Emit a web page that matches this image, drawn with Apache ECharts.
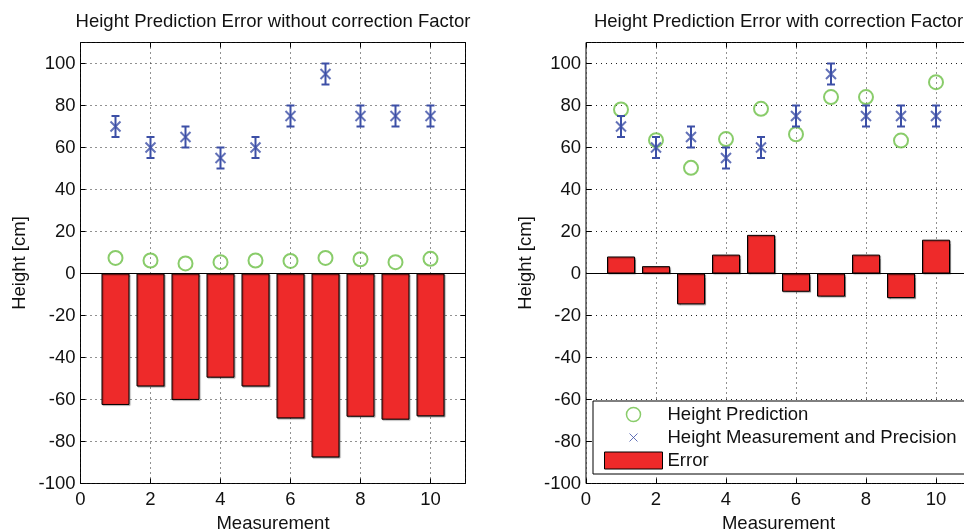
<!DOCTYPE html>
<html>
<head>
<meta charset="utf-8">
<script src="https://cdn.jsdelivr.net/npm/echarts@6/dist/echarts.min.js"></script>
<style>html,body{margin:0;padding:0;background:#fff}#c{width:964px;height:530px}</style>
</head>
<body>
<div id="c"></div>
<script>
// ---- data ----
const measurementIdx = [1, 2, 3, 4, 5, 6, 7, 8, 9, 10];
const heightMeasured = [70, 60, 65, 55, 60, 75, 95, 75, 75, 75];
const heightPrecision = [5, 5, 5, 5, 5, 5, 5, 5, 5, 5];
const predictionNoCorr = [7.4, 6.2, 4.8, 5.4, 6.2, 6.0, 7.4, 6.8, 5.4, 7.0];
const errorNoCorr = [-62.6, -53.8, -60.2, -49.6, -53.8, -69.0, -87.6, -68.2, -69.6, -68.0];
const predictionCorr = [78.1, 63.5, 50.3, 64.0, 78.4, 66.3, 84.0, 84.0, 63.3, 91.1];
const errorCorr = [8.1, 3.5, -14.7, 9.0, 18.4, -8.7, -11.0, 9.0, -11.7, 16.1];
const titles = ['Height Prediction Error without correction Factor', 'Height Prediction Error with correction Factor'];
const xName = 'Measurement';
const yName = 'Height [cm]';
const seriesNames = ['Height Prediction', 'Height Measurement and Precision', 'Error'];

// ---- styles ----
const FONT = 'Liberation Sans, Arial, Helvetica, sans-serif';
const BLUE = '#3c4fa6';
const GREEN = '#6cbf45';
const RED = '#ee2a2a';
const FS = 18.5;

const pairs = (ys) => measurementIdx.map((x, i) => [x, ys[i]]);
const errData = measurementIdx.map((x, i) => [x, heightMeasured[i], heightPrecision[i]]);

const grids = [
  { left: 80.5, top: 42.5, width: 385, height: 441 },
  { left: 586, top: 42.5, width: 385, height: 441 }
];

const xAxes = [], yAxes = [], series = [];
grids.forEach((g, gi) => {
  const bx = xAxes.length, by = yAxes.length;
  xAxes.push({
    type: 'value', gridIndex: gi, position: 'bottom', min: 0, max: 11, interval: 2,
    name: xName, nameLocation: 'middle', nameGap: 29,
    nameTextStyle: { fontFamily: FONT, fontSize: FS, color: '#111' },
    axisLine: { show: false, onZero: false },
    axisTick: { show: true, inside: true, length: 5, lineStyle: { color: '#000' } },
    axisLabel: { fontFamily: FONT, fontSize: FS, color: '#111', margin: 7, showMaxLabel: false },
    splitLine: { show: true, lineStyle: { color: '#222', type: [1, 4], width: 1 } }
  });
  xAxes.push({
    type: 'value', gridIndex: gi, position: 'top', min: 0, max: 11, interval: 2,
    axisLine: { show: false, onZero: false },
    axisTick: { show: true, inside: true, length: 5, lineStyle: { color: '#000' } },
    axisLabel: { show: false }, splitLine: { show: false }
  });
  yAxes.push({
    type: 'value', gridIndex: gi, position: 'left', min: -100, max: 110, interval: 20,
    name: yName, nameLocation: 'middle', nameGap: 51, nameRotate: 90,
    nameTextStyle: { fontFamily: FONT, fontSize: FS, color: '#111' },
    axisLine: { show: false, onZero: false },
    axisTick: { show: true, inside: true, length: 5, lineStyle: { color: '#000' } },
    axisLabel: { fontFamily: FONT, fontSize: FS, color: '#111', margin: 5, showMaxLabel: false },
    splitLine: { show: true, lineStyle: { color: '#222', type: [1, 4], width: 1 } }
  });
  yAxes.push({
    type: 'value', gridIndex: gi, position: 'right', min: -100, max: 110, interval: 20,
    axisLine: { show: false, onZero: false },
    axisTick: { show: true, inside: true, length: 5, lineStyle: { color: '#000' } },
    axisLabel: { show: false }, splitLine: { show: false }
  });
  const pred = gi === 0 ? predictionNoCorr : predictionCorr;
  const err = gi === 0 ? errorNoCorr : errorCorr;
  series.push({
    name: seriesNames[2], type: 'bar', xAxisIndex: bx, yAxisIndex: by,
    data: pairs(err), barWidth: 28, z: 2,
    itemStyle: { color: RED, borderColor: '#000', borderWidth: 1,
      shadowColor: 'rgba(0,0,0,0.35)', shadowOffsetX: 1, shadowOffsetY: 1, shadowBlur: 1 },
    markLine: { silent: true, symbol: 'none', label: { show: false },
      lineStyle: { color: '#000', type: 'solid', width: 1 }, data: [{ yAxis: 0 }] }
  });
  series.push({
    name: seriesNames[0], type: 'scatter', xAxisIndex: bx, yAxisIndex: by,
    data: pairs(pred), symbol: 'circle', symbolSize: 14, z: 3,
    itemStyle: { color: 'rgba(0,0,0,0)', borderColor: GREEN, borderWidth: 2 }
  });
  series.push({
    name: 'errbar', type: 'custom', xAxisIndex: bx, yAxisIndex: by, z: 4,
    data: errData, encode: { x: 0, y: 1 },
    renderItem: function (params, api) {
      const x = api.value(0), y = api.value(1), e = api.value(2);
      const t = api.coord([x, y + e]), b = api.coord([x, y - e]);
      const hw = 4;
      const st = { stroke: BLUE, lineWidth: 2 };
      return { type: 'group', children: [
        { type: 'line', shape: { x1: t[0], y1: t[1], x2: b[0], y2: b[1] }, style: st },
        { type: 'line', shape: { x1: t[0] - hw, y1: t[1], x2: t[0] + hw, y2: t[1] }, style: st },
        { type: 'line', shape: { x1: b[0] - hw, y1: b[1], x2: b[0] + hw, y2: b[1] }, style: st }
      ] };
    }
  });
  series.push({
    name: seriesNames[1], type: 'scatter', xAxisIndex: bx, yAxisIndex: by,
    data: pairs(heightMeasured), symbol: 'path://M0 0L10 10M10 0L0 10', symbolSize: 10, z: 5,
    itemStyle: { color: 'rgba(0,0,0,0)', borderColor: BLUE, borderWidth: 2 }
  });
});

const option = {
  animation: false,
  backgroundColor: '#fff',
  title: [
    { text: titles[0], left: 273, top: 12, textAlign: 'center', padding: 0,
      textStyle: { fontFamily: FONT, fontSize: FS, fontWeight: 'normal', color: '#111' } },
    { text: titles[1], left: 778.5, top: 12, textAlign: 'center', padding: 0,
      textStyle: { fontFamily: FONT, fontSize: FS, fontWeight: 'normal', color: '#111' } }
  ],
  grid: grids.map(g => Object.assign({ show: true, borderColor: '#000', borderWidth: 1, backgroundColor: '#fff', containLabel: false, outerBoundsMode: 'none' }, g)),
  xAxis: xAxes,
  yAxis: yAxes,
  legend: {
    left: 593, top: 401, orient: 'vertical',
    itemWidth: 58, itemHeight: 17, itemGap: 4,
    padding: [4, 40, 4, 11],
    backgroundColor: '#fff', borderColor: '#000', borderWidth: 1,
    selectedMode: false,
    textStyle: { fontFamily: FONT, fontSize: FS, color: '#111' },
    data: [
      { name: seriesNames[0], icon: 'path://M0 0M17 17M8.5 1.5A7 7 0 1 1 8.49 1.5Z',
        itemStyle: { color: 'rgba(0,0,0,0)', borderColor: GREEN, borderWidth: 1.5 } },
      { name: seriesNames[1], icon: 'path://M0 0M17 17M4.5 4.5L12.5 12.5M12.5 4.5L4.5 12.5',
        itemStyle: { color: 'rgba(0,0,0,0)', borderColor: BLUE, borderWidth: 1 } },
      { name: seriesNames[2], icon: 'rect',
        itemStyle: { color: RED, borderColor: '#000', borderWidth: 1 } }
    ]
  },
  series: series
};

const chart = echarts.init(document.getElementById('c'), null, { renderer: 'canvas' });
chart.setOption(option);
</script>
</body>
</html>
